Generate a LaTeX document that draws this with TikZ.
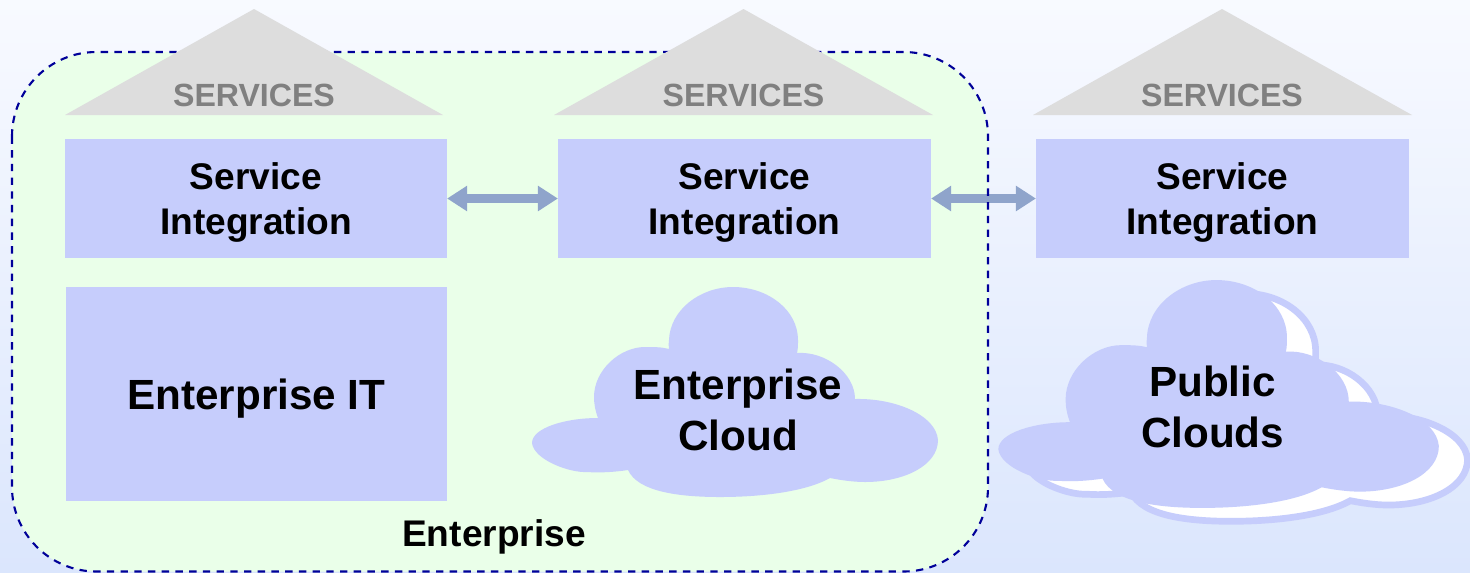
\documentclass[tikz,border=0pt]{standalone}
\usepackage{fontspec}
\setmainfont{Liberation Sans}
\usetikzlibrary{arrows.meta}
\definecolor{lavender}{HTML}{C6CDFC}
\definecolor{entgreen}{HTML}{EAFFE9}
\definecolor{entnavy}{HTML}{000099}
\definecolor{roofgray}{HTML}{DDDDDD}
\definecolor{rooftext}{HTML}{808080}
\definecolor{linkblue}{HTML}{8FA4CB}
\definecolor{bgtop}{HTML}{F8FAFF}
\definecolor{bgbottom}{HTML}{DBE6FD}
\newcommand{\cloudshape}{(78,148) .. controls (45,148) and (12,158) .. (12,173)
  .. controls (14,190) and (50,203) .. (67,202) .. controls (80,203) and (95,202) .. (108,200)
  .. controls (118,222) and (160,227) .. (200,227) .. controls (240,227) and (285,222) .. (310,208)
  .. controls (320,210) and (333,212) .. (345,212) .. controls (385,212) and (418,195) .. (418,170)
  .. controls (416,145) and (375,128) .. (335,129) .. controls (335,103) and (305,81) .. (277,83)
  .. controls (278,79) and (278,75) .. (278,70) .. controls (278,40) and (248,17) .. (213,17)
  .. controls (180,17) and (150,40) .. (149,70) .. controls (149,73) and (148,76) .. (149,79)
  .. controls (142,77) and (134,77) .. (125,77) .. controls (100,77) and (74,100) .. (74,127)
  .. controls (74,133) and (75,140) .. (78,148) -- cycle}
\tikzset{
  layerbox/.style={fill=lavender,inner sep=0pt,outer sep=0pt,text depth=-0.64pt,font=\fontsize{10.55}{12.8}\selectfont\bfseries,align=center},
  bigtext/.style={inner sep=0pt,font=\fontsize{12}{14.5}\selectfont\bfseries,align=center},
  roof/.style={fill=roofgray},
  rooflabel/.style={inner sep=0pt,text=rooftext,font=\fontsize{9.13}{11}\selectfont\bfseries},
  link/.style={{Triangle[length=5.7pt,width=6.9pt]}-{Triangle[length=5.7pt,width=6.9pt]},draw=linkblue,line width=2.3pt}
}

\begin{document}
\begin{tikzpicture}[x=0.01cm,y=-0.01cm]
\useasboundingbox (0,0) rectangle (1470,572);
\shade[top color=bgtop,bottom color=bgbottom] (0,0) rectangle (1470,572);
\fill[entgreen,rounded corners=24pt] (12,52) rectangle (988,571.5);

\node[layerbox,minimum width=3.82cm,minimum height=1.19cm] (integ1) at (256,198.5) {Service\\Integration};
\node[layerbox,minimum width=3.73cm,minimum height=1.19cm] (integ2) at (744.5,198.5) {Service\\Integration};
\node[layerbox,minimum width=3.73cm,minimum height=1.19cm] (integ3) at (1222.5,198.5) {Service\\Integration};
\node[layerbox,minimum width=3.81cm,minimum height=2.14cm,text depth=-0.34pt,font=\fontsize{12}{14.5}\selectfont\bfseries] (entit) at (256.5,394) {Enterprise IT};

\draw[link] (integ1) -- (integ2);
\draw[link] (integ2) -- (integ3);

\draw[entnavy,line width=0.6pt,dash pattern=on 2.1pt off 1.8pt,rounded corners=24pt] (12,52) rectangle (988,571.5);

\foreach \name/\cx/\xa/\xb in {svc1/254/65/443,svc2/743.5/554/933,svc3/1222/1033/1412}{
  \fill[roof] (\xa,115) -- (\cx,9) -- (\xb,115) -- cycle;
  \node[rooflabel] (\name) at (\cx,95) {SERVICES};
}

\begin{scope}[shift={(520,270)}]
\fill[lavender] \cloudshape;
\end{scope}
\node[bigtext] (entcloud) at (738,409.5) {Enterprise\\Cloud};

\begin{scope}[shift={(1014,275)},scale=1.085]
\filldraw[fill=white,draw=lavender,line width=1.9pt] \cloudshape;
\end{scope}
\begin{scope}[shift={(985.3,261.6)},scale=1.085]
\fill[lavender] \cloudshape;
\end{scope}
\node[bigtext] (pubcloud) at (1212.5,406.5) {Public\\Clouds};

\node[inner sep=0pt,font=\fontsize{10.55}{12.8}\selectfont\bfseries] (entlabel) at (494,537) {Enterprise};
\end{tikzpicture}
\end{document}
